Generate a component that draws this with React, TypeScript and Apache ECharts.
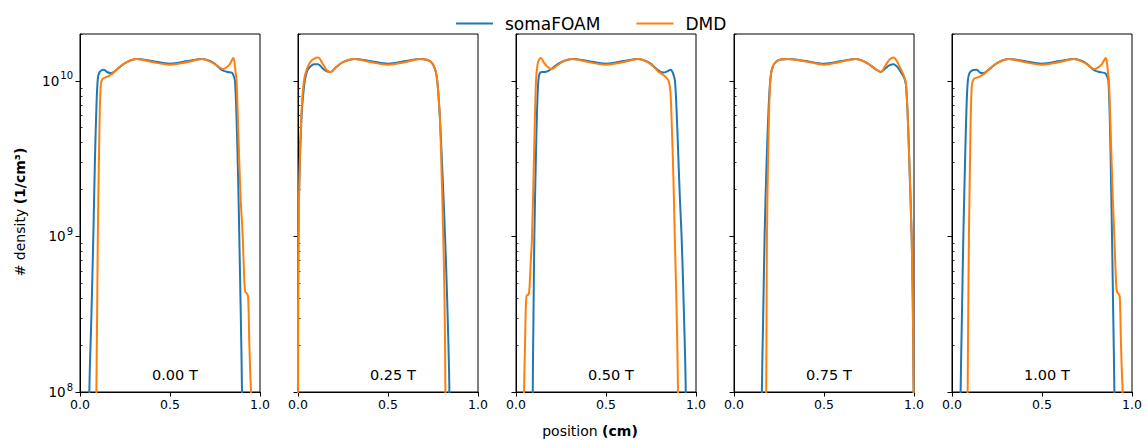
import React, { useEffect, useRef } from 'react';
import * as echarts from 'echarts';

type Pt = [number, number];

const panelLabels = ['0.00 T', '0.25 T', '0.50 T', '0.75 T', '1.00 T'];
const seriesNames = ['somaFOAM', 'DMD'];
const xTickValues = [0, 0.5, 1];
const yMajorTicks = [1e8, 1e9, 1e10];
const yMinorTicks = [2e8, 3e8, 4e8, 5e8, 6e8, 7e8, 8e8, 9e8, 2e9, 3e9, 4e9, 5e9, 6e9, 7e9, 8e9, 9e9, 2e10];

const soma000: Pt[] = [[0.048,1e7],[0.052,1e8],[0.063,3e8],[0.074,1e9],[0.083,3.1e9],[0.092,7.2e9],[0.099,1.03e10],[0.107,1.13e10],[0.12,1.17e10],[0.133,1.18e10],[0.15,1.14e10],[0.172,1.12e10],[0.2,1.17e10],[0.25,1.3e10],[0.315,1.38e10],[0.4,1.34e10],[0.5,1.29e10],[0.6,1.34e10],[0.676,1.38e10],[0.74,1.31e10],[0.79,1.17e10],[0.82,1.14e10],[0.843,1.13e10],[0.852,1.09e10],[0.861,1e10],[0.87,5.6e9],[0.878,2.5e9],[0.885,1e9],[0.893,3.2e8],[0.9,1e8],[0.903,1e7]];
const dmd000: Pt[] = [[0.088,1e7],[0.091,1e8],[0.095,3e8],[0.099,1e9],[0.105,3e9],[0.11,6.5e9],[0.116,9.5e9],[0.125,1.03e10],[0.14,1.05e10],[0.157,1.07e10],[0.18,1.11e10],[0.21,1.2e10],[0.25,1.3e10],[0.315,1.38e10],[0.4,1.32e10],[0.5,1.27e10],[0.6,1.32e10],[0.676,1.38e10],[0.74,1.3e10],[0.796,1.19e10],[0.83,1.27e10],[0.852,1.4e10],[0.859,1.3e10],[0.865,1.12e10],[0.87,1e10],[0.88,4.5e9],[0.892,1.8e9],[0.904,1e9],[0.912,5.5e8],[0.918,4.4e8],[0.927,4.3e8],[0.934,4.1e8],[0.94,2.2e8],[0.946,1.3e8],[0.95,1e8],[0.953,1e7]];

const soma025: Pt[] = [[0,4e8],[0.004,1.5e9],[0.012,3.5e9],[0.022,6.5e9],[0.035,9.5e9],[0.05,1.15e10],[0.07,1.24e10],[0.09,1.28e10],[0.112,1.28e10],[0.135,1.21e10],[0.16,1.15e10],[0.182,1.14e10],[0.21,1.22e10],[0.25,1.32e10],[0.315,1.38e10],[0.4,1.34e10],[0.5,1.29e10],[0.6,1.34e10],[0.676,1.38e10],[0.72,1.36e10],[0.745,1.3e10],[0.76,1.2e10],[0.77,1.08e10],[0.779,8.5e9],[0.789,5.6e9],[0.803,2.5e9],[0.817,1e9],[0.83,3.5e8],[0.841,1e8],[0.843,1e7]];
const dmd025: Pt[] = [[0,5e7],[0.003,1e9],[0.01,3e9],[0.02,6.5e9],[0.033,1e10],[0.05,1.2e10],[0.07,1.33e10],[0.09,1.39e10],[0.112,1.41e10],[0.135,1.3e10],[0.16,1.17e10],[0.182,1.14e10],[0.21,1.22e10],[0.25,1.32e10],[0.315,1.38e10],[0.4,1.32e10],[0.5,1.27e10],[0.6,1.32e10],[0.676,1.38e10],[0.72,1.36e10],[0.745,1.3e10],[0.76,1.2e10],[0.77,1.08e10],[0.779,8.5e9],[0.789,5.5e9],[0.798,2.5e9],[0.807,1e9],[0.814,4e8],[0.819,1e8],[0.821,1e7]];

const soma050: Pt[] = [[0.091,1e7],[0.093,1e8],[0.097,3e8],[0.102,1e9],[0.11,3e9],[0.117,6.5e9],[0.124,1e10],[0.132,1.12e10],[0.143,1.14e10],[0.16,1.14e10],[0.18,1.16e10],[0.2,1.2e10],[0.24,1.3e10],[0.315,1.38e10],[0.4,1.34e10],[0.5,1.29e10],[0.6,1.34e10],[0.676,1.38e10],[0.74,1.31e10],[0.79,1.17e10],[0.819,1.13e10],[0.84,1.15e10],[0.859,1.18e10],[0.872,1.12e10],[0.883,1e10],[0.892,6.5e9],[0.902,3.2e9],[0.911,1.7e9],[0.92,1e9],[0.932,3.5e8],[0.943,1e8],[0.945,1e7]];
const dmd050: Pt[] = [[0.042,1e7],[0.045,1e8],[0.05,2e8],[0.055,3.6e8],[0.06,4.2e8],[0.068,4.2e8],[0.074,4.5e8],[0.081,6.5e8],[0.089,1e9],[0.1,3.2e9],[0.111,1e10],[0.12,1.28e10],[0.13,1.38e10],[0.138,1.4e10],[0.155,1.31e10],[0.175,1.23e10],[0.198,1.19e10],[0.23,1.26e10],[0.27,1.35e10],[0.315,1.38e10],[0.4,1.32e10],[0.5,1.27e10],[0.6,1.32e10],[0.676,1.38e10],[0.74,1.3e10],[0.79,1.15e10],[0.818,1.09e10],[0.835,1.05e10],[0.848,1e10],[0.858,8.5e9],[0.866,5e9],[0.874,2.5e9],[0.882,1e9],[0.892,3.5e8],[0.9,1e8],[0.902,1e7]];

const soma075: Pt[] = [[0.152,1e7],[0.155,1e8],[0.162,3e8],[0.17,1e9],[0.181,3e9],[0.193,7e9],[0.203,1.05e10],[0.215,1.23e10],[0.235,1.33e10],[0.26,1.37e10],[0.3,1.38e10],[0.4,1.34e10],[0.5,1.29e10],[0.6,1.34e10],[0.676,1.38e10],[0.74,1.3e10],[0.79,1.18e10],[0.816,1.14e10],[0.84,1.2e10],[0.865,1.26e10],[0.887,1.28e10],[0.91,1.22e10],[0.93,1.12e10],[0.945,1.05e10],[0.955,9.5e9],[0.965,6e9],[0.975,2.8e9],[0.987,1e9],[0.993,4e8],[0.998,1e8],[1,3e7]];
const dmd075: Pt[] = [[0.178,1e7],[0.179,1e8],[0.181,3e8],[0.183,1e9],[0.189,3e9],[0.196,7e9],[0.203,1.05e10],[0.215,1.23e10],[0.235,1.33e10],[0.26,1.37e10],[0.3,1.38e10],[0.4,1.33e10],[0.5,1.27e10],[0.6,1.33e10],[0.676,1.38e10],[0.74,1.3e10],[0.79,1.18e10],[0.816,1.14e10],[0.84,1.25e10],[0.865,1.37e10],[0.887,1.41e10],[0.905,1.34e10],[0.925,1.2e10],[0.945,1.07e10],[0.955,9.6e9],[0.965,6e9],[0.975,2.8e9],[0.987,1e9],[0.993,4e8],[0.998,1e8],[1,3e7]];

const soma100: Pt[] = [[0.045,1e7],[0.048,1e8],[0.055,3e8],[0.063,1e9],[0.073,3.2e9],[0.081,7e9],[0.088,1e10],[0.097,1.12e10],[0.115,1.17e10],[0.137,1.18e10],[0.155,1.13e10],[0.174,1.12e10],[0.2,1.17e10],[0.25,1.3e10],[0.315,1.38e10],[0.4,1.34e10],[0.5,1.29e10],[0.6,1.34e10],[0.676,1.38e10],[0.74,1.31e10],[0.79,1.17e10],[0.82,1.14e10],[0.85,1.12e10],[0.86,1.08e10],[0.869,1e10],[0.877,5.5e9],[0.883,2.5e9],[0.889,1e9],[0.896,3e8],[0.902,1e8],[0.904,1e7]];
const dmd100: Pt[] = [[0.084,1e7],[0.087,1e8],[0.09,3e8],[0.094,1e9],[0.1,3e9],[0.105,6.5e9],[0.111,9.5e9],[0.122,1.03e10],[0.14,1.05e10],[0.156,1.07e10],[0.18,1.11e10],[0.21,1.2e10],[0.25,1.3e10],[0.315,1.38e10],[0.4,1.32e10],[0.5,1.27e10],[0.6,1.32e10],[0.676,1.38e10],[0.74,1.3e10],[0.79,1.19e10],[0.83,1.27e10],[0.854,1.4e10],[0.861,1.3e10],[0.867,1.12e10],[0.872,1e10],[0.882,4.5e9],[0.893,1.8e9],[0.902,1e9],[0.91,5.5e8],[0.916,4.4e8],[0.924,4.3e8],[0.932,4.1e8],[0.938,2.2e8],[0.944,1.3e8],[0.948,1e8],[0.951,1e7]];

const somaSeries = [soma000, soma025, soma050, soma075, soma100];
const dmdSeries = [dmd000, dmd025, dmd050, dmd075, dmd100];

const FONT = 'DejaVu Sans';
const BLUE = '#1f77b4';
const ORANGE = '#ff7f0e';
const gridLefts = [80, 298, 516, 734, 952];
const GRID_TOP = 34;
const GRID_W = 180;
const GRID_H = 358;

export default function App() {
  const ref = useRef<HTMLDivElement>(null);
  useEffect(() => {
    if (!ref.current) return;
    const chart = echarts.init(ref.current, undefined, { renderer: 'svg' });

    const grids = gridLefts.map((l) => ({
      left: l, top: GRID_TOP, width: GRID_W, height: GRID_H,
      show: true, borderColor: '#000', borderWidth: 1, backgroundColor: 'transparent',
    }));

    const xAxes = gridLefts.map((_, i) => ({
      type: 'value', gridIndex: i, min: 0, max: 1, interval: 0.5,
      axisLine: { show: true, onZero: false, lineStyle: { color: '#000', width: 1 } },
      axisTick: { show: true, length: 4.5, lineStyle: { color: '#000', width: 1 } },
      axisLabel: {
        color: '#000', fontSize: 12.5, fontFamily: FONT, margin: 6,
        formatter: (v: number) => (xTickValues.includes(v) ? v.toFixed(1) : ''),
      },
      splitLine: { show: false },
    }));

    const yAxes: any[] = [];
    gridLefts.forEach((_, i) => {
      yAxes.push({
        type: 'log', logBase: 10, gridIndex: i, min: 1e8, max: 2e10,
        axisLine: { show: true, onZero: false, lineStyle: { color: '#000', width: 1 } },
        axisTick: { show: true, length: 4.5, customValues: yMajorTicks, lineStyle: { color: '#000', width: 1 } },
        axisLabel: {
          show: i === 0, customValues: yMajorTicks, margin: 7, color: '#000', fontFamily: FONT, fontSize: 13.5,
          formatter: (v: number) => `{b|10}{s|${Math.round(Math.log10(v))}}`,
          rich: {
            b: { fontSize: 13.5, fontFamily: FONT, color: '#000' },
            s: { fontSize: 10, fontFamily: FONT, color: '#000', padding: [0, 0, 10, 1] },
          },
        },
        splitLine: { show: false },
      });
      yAxes.push({
        type: 'log', logBase: 10, gridIndex: i, min: 1e8, max: 2e10,
        axisLine: { show: false },
        axisTick: { show: true, length: 2.5, customValues: yMinorTicks, lineStyle: { color: '#000', width: 0.8 } },
        axisLabel: { show: false },
        splitLine: { show: false },
      });
    });

    const series: any[] = [];
    gridLefts.forEach((_, i) => {
      series.push({
        name: seriesNames[0], type: 'line', xAxisIndex: i, yAxisIndex: 2 * i,
        data: somaSeries[i], showSymbol: false, symbol: 'none', smooth: 0.3, clip: true,
        lineStyle: { color: BLUE, width: 2 }, itemStyle: { color: BLUE }, z: 2,
      });
      series.push({
        name: seriesNames[1], type: 'line', xAxisIndex: i, yAxisIndex: 2 * i,
        data: dmdSeries[i], showSymbol: false, symbol: 'none', smooth: 0.3, clip: true,
        lineStyle: { color: ORANGE, width: 2 }, itemStyle: { color: ORANGE }, z: 3,
      });
    });

    const graphics: any[] = panelLabels.map((t, i) => ({
      type: 'text', x: gridLefts[i] + 0.527 * GRID_W, y: 375,
      style: { text: t, fontSize: 14.5, fontFamily: FONT, fill: '#000', align: 'center', verticalAlign: 'middle' },
    }));
    graphics.push({
      type: 'text', x: 590, y: 431,
      style: {
        text: 'position {b|(cm)}', fontSize: 14, fontFamily: FONT, fill: '#000',
        align: 'center', verticalAlign: 'middle',
        rich: { b: { fontSize: 14, fontFamily: FONT, fontWeight: 'bold', fill: '#000' } },
      },
    });
    graphics.push({
      type: 'text', x: 20, y: 212, rotation: Math.PI / 2,
      style: {
        text: '# density {b|(1/cm³)}', fontSize: 14, fontFamily: FONT, fill: '#000',
        align: 'center', verticalAlign: 'middle',
        rich: { b: { fontSize: 14, fontFamily: FONT, fontWeight: 'bold', fill: '#000' } },
      },
    });

    chart.setOption({
      animation: false,
      backgroundColor: '#fff',
      legend: {
        data: [{ name: seriesNames[0], icon: 'rect' }, { name: seriesNames[1], icon: 'rect' }],
        left: 451, top: 10, itemWidth: 37, itemHeight: 2, itemGap: 36,
        textStyle: { fontSize: 17, fontFamily: FONT, color: '#000', padding: [0, 0, 0, 7] },
      },
      grid: grids,
      xAxis: xAxes,
      yAxis: yAxes,
      series,
      graphic: graphics,
    });
    return () => chart.dispose();
  }, []);
  return <div ref={ref} style={{ position: 'absolute', left: 0, top: 0, width: 1146, height: 441 }} />;
}
